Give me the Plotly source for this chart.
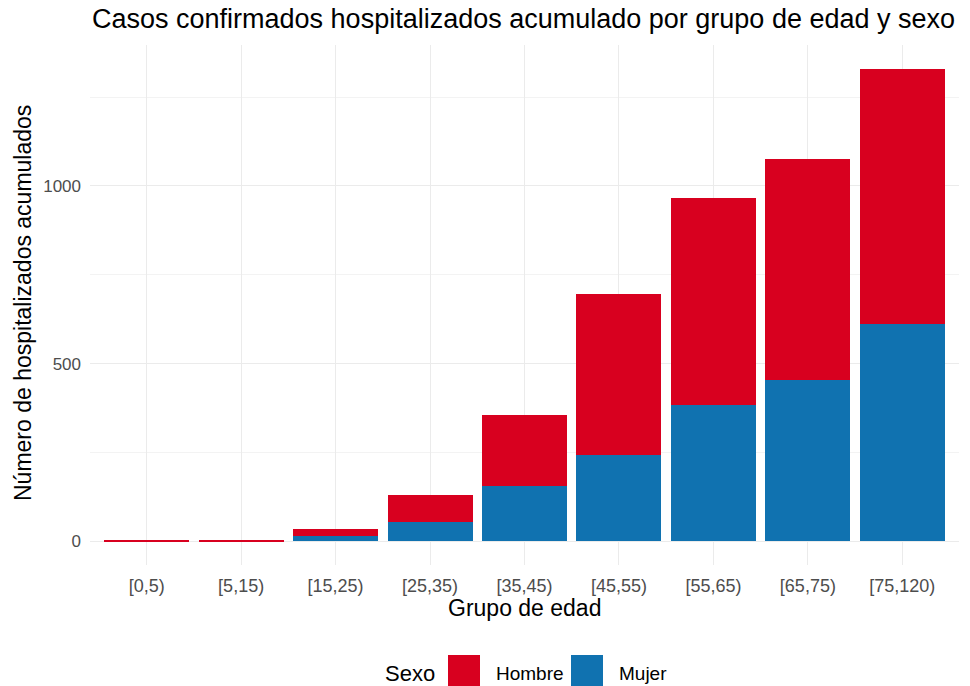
import plotly.graph_objects as go

grupos = ["[0,5)", "[5,15)", "[15,25)", "[25,35)", "[35,45)", "[45,55)", "[55,65)", "[65,75)", "[75,120)"]
mujer = [0, 0, 14, 54, 155, 242, 383, 453, 611]
hombre = [4, 3, 21, 77, 200, 454, 584, 622, 719]
series_names = ["Hombre", "Mujer"]
colores = {"Hombre": "#D8001F", "Mujer": "#1072B0"}

FONT = "Liberation Sans, Arial, sans-serif"
W, H = 970, 686
# panel in page pixels
P_L, P_R, P_T, P_B = 90, 959, 45, 565
L, R, T, B = P_L, W - P_R, P_T, H - P_B
PW, PH = P_R - P_L, P_B - P_T

def px(x):
    return (x - P_L) / PW

def py(y):
    return (P_B - y) / PH

fig = go.Figure()
fig.add_trace(go.Bar(x=grupos, y=mujer, name="Mujer", marker=dict(color=colores["Mujer"], line=dict(width=0)), showlegend=False))
fig.add_trace(go.Bar(x=grupos, y=hombre, name="Hombre", marker=dict(color=colores["Hombre"], line=dict(width=0)), showlegend=False))

total_max = max(m + h for m, h in zip(mujer, hombre))
pad = 0.05 * total_max

annotations = [
    dict(text="Grupo de edad", x=px(524), y=py(608), xref="paper", yref="paper", showarrow=False,
         xanchor="center", yanchor="middle", font=dict(size=23, family=FONT, color="#000000")),
    dict(text="Número de hospitalizados acumulados", x=px(23), y=py(303), xref="paper", yref="paper", showarrow=False,
         xanchor="center", yanchor="middle", textangle=-90, font=dict(size=23, family=FONT, color="#000000")),
    dict(text="Sexo", x=px(383), y=py(673), xref="paper", yref="paper", showarrow=False,
         xanchor="left", yanchor="middle", font=dict(size=22, family=FONT, color="#000000")),
]
shapes = []
legend_pos = {"Hombre": (448, 494), "Mujer": (571, 617)}
for name in series_names:
    sx, tx = legend_pos[name]
    shapes.append(dict(type="rect", xref="paper", yref="paper", x0=px(sx), x1=px(sx + 32), y0=py(655), y1=py(690),
                       fillcolor=colores[name], line=dict(width=0), layer="above"))
    annotations.append(dict(text=name, x=px(tx), y=py(673), xref="paper", yref="paper", showarrow=False,
                            xanchor="left", yanchor="middle", font=dict(size=19, family=FONT, color="#000000")))

fig.update_layout(
    width=W, height=H,
    barmode="stack", bargap=0.1,
    plot_bgcolor="white", paper_bgcolor="white",
    margin=dict(l=L, r=R, t=T, b=B, autoexpand=False),
    font=dict(family=FONT, color="#000000"),
    showlegend=False,
    title=dict(text="Casos confirmados hospitalizados acumulado por grupo de edad y sexo",
               x=92 / W, xanchor="left", xref="container", y=1 - 19 / H, yanchor="middle", yref="container",
               font=dict(size=27, family=FONT, color="#000000")),
    xaxis=dict(range=[-0.6, len(grupos) - 0.4], showgrid=True, gridcolor="#EBEBEB", gridwidth=1.2,
               tickfont=dict(size=18, color="#4D4D4D", family=FONT), ticks="", zeroline=False,
               automargin=False, ticklabelstandoff=8),
    yaxis=dict(range=[-pad, total_max + pad], tickvals=[0, 500, 1000], showgrid=True, gridcolor="#EBEBEB", gridwidth=1.2,
               minor=dict(dtick=250, tick0=0, showgrid=True, gridcolor="#F3F3F3", gridwidth=1),
               tickfont=dict(size=17, color="#4D4D4D", family=FONT), ticks="", zeroline=False,
               automargin=False, ticklabelstandoff=8),
    annotations=annotations,
    shapes=shapes,
)

fig.write_html("out.html", config={"displayModeBar": False},
               post_script="document.body.style.margin='0'; document.body.style.overflow='hidden';")
